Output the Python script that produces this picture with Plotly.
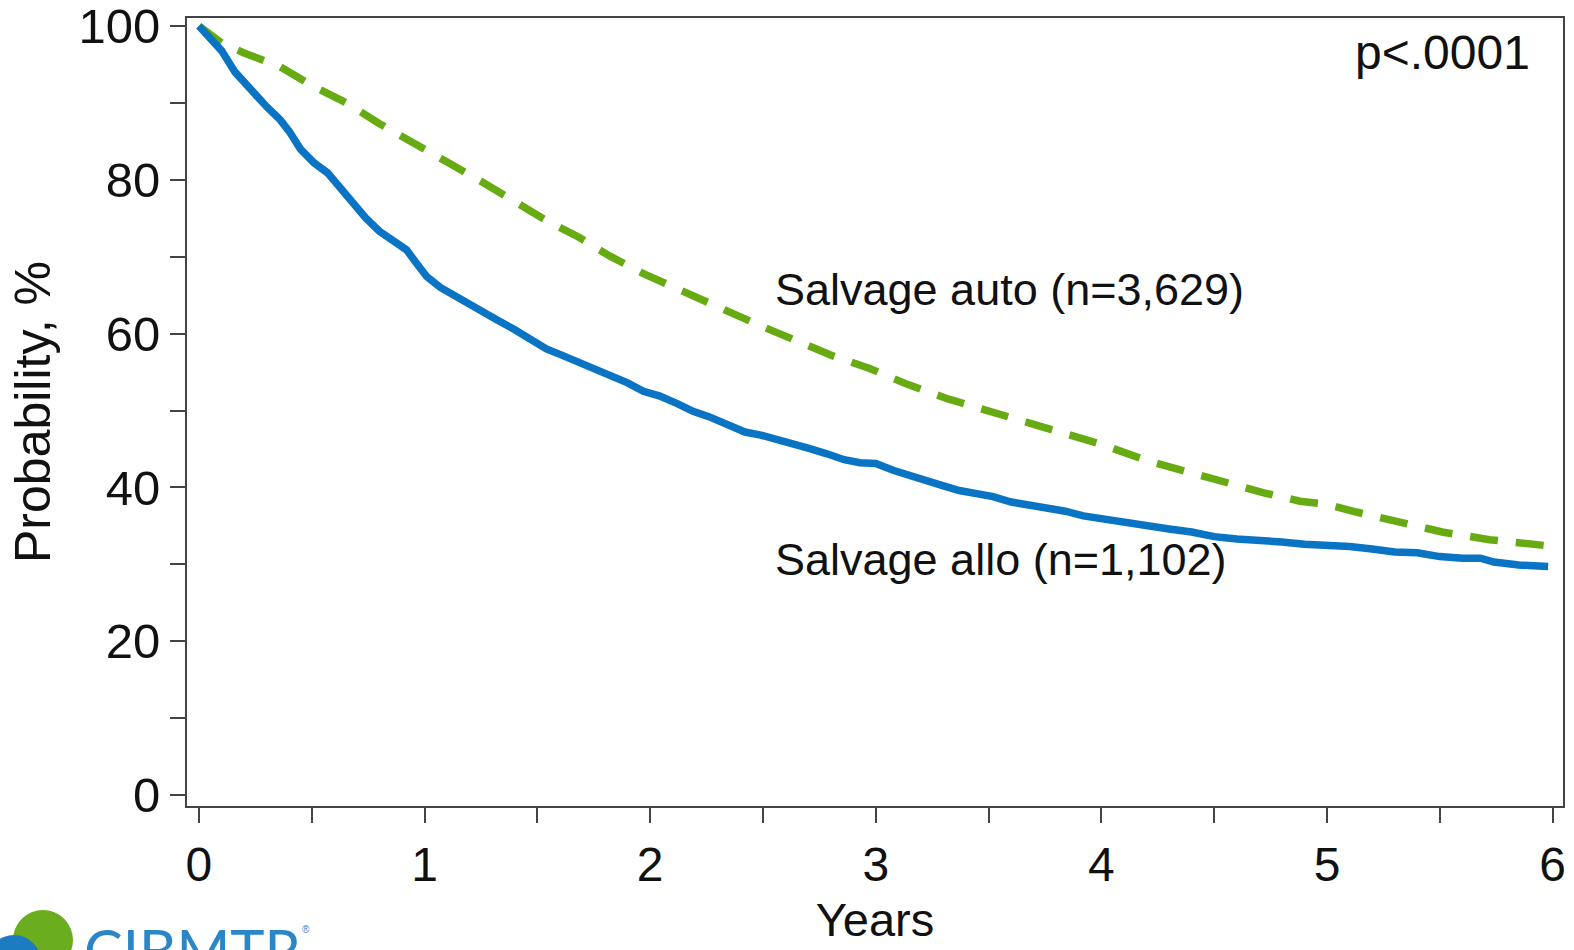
import plotly.graph_objects as go

# ---- data ----
allo_years = [0, 0.05, 0.1, 0.16, 0.24, 0.3, 0.36, 0.4, 0.45, 0.51, 0.57, 0.62, 0.68, 0.74, 0.8, 0.86,
              0.92, 0.96, 1.01, 1.07, 1.14, 1.22, 1.32, 1.4, 1.47, 1.54, 1.6, 1.68, 1.75, 1.82, 1.9,
              1.97, 2.04, 2.12, 2.19, 2.26, 2.34, 2.42, 2.49, 2.56, 2.63, 2.7, 2.78, 2.86, 2.93, 3.0,
              3.08, 3.15, 3.22, 3.3, 3.37, 3.45, 3.52, 3.6, 3.68, 3.76, 3.84, 3.92, 4.0, 4.1, 4.2,
              4.3, 4.4, 4.5, 4.6, 4.7, 4.8, 4.9, 5.0, 5.1, 5.2, 5.3, 5.4, 5.5, 5.6, 5.68, 5.74, 5.85, 5.98]
allo_prob = [100, 98.5, 96.8, 94.0, 91.3, 89.5, 87.8, 86.3, 84.0, 82.2, 80.9, 79.2, 77.0, 75.0, 73.3, 72.2,
             70.9, 69.3, 67.4, 66.0, 64.8, 63.3, 61.8, 60.5, 59.2, 58.0, 57.3, 56.3, 55.6, 54.8, 53.6,
             52.5, 51.9, 50.9, 49.9, 49.2, 48.1, 47.2, 46.8, 46.3, 45.7, 45.1, 44.4, 43.6, 43.2, 43.1,
             42.2, 41.5, 40.8, 40.2, 39.6, 39.2, 38.8, 38.1, 37.7, 37.4, 36.9, 36.3, 35.9, 35.4, 34.9,
             34.6, 34.2, 33.6, 33.3, 33.2, 32.9, 32.6, 32.5, 32.3, 32.0, 31.6, 31.5, 31.0, 30.8, 30.8, 30.3, 29.9, 29.7]

auto_years = [0, 0.1, 0.2, 0.36, 0.51, 0.66, 0.8, 0.95, 1.1, 1.25, 1.39, 1.54, 1.68, 1.82, 1.97, 2.15,
              2.31, 2.49, 2.63, 2.81, 2.97, 3.14, 3.32, 3.48, 3.67, 3.85, 4.0, 4.2, 4.38, 4.55, 4.72,
              4.88, 5.0, 5.13, 5.32, 5.51, 5.72, 5.93, 5.98]
auto_prob = [100, 97.8, 96.5, 94.7, 92.1, 89.9, 87.3, 84.9, 82.3, 79.8, 77.2, 74.7, 72.6, 70.1, 67.8, 65.4,
             63.2, 61.0, 59.3, 57.1, 55.5, 53.4, 51.5, 50.1, 48.3, 46.9, 45.6, 43.5, 42.0, 40.6, 39.3,
             38.2, 37.8, 36.8, 35.4, 34.2, 33.2, 32.4, 32.4]

x_tickvals = [0, 0.5, 1, 1.5, 2, 2.5, 3, 3.5, 4, 4.5, 5, 5.5, 6]
x_ticktext = ["0", "", "1", "", "2", "", "3", "", "4", "", "5", "", "6"]
y_tickvals = [0, 10, 20, 30, 40, 50, 60, 70, 80, 90, 100]
y_ticktext = ["0", "", "20", "", "40", "", "60", "", "80", "", "100"]

label_auto = "Salvage auto (n=3,629)"
label_allo = "Salvage allo (n=1,102)"
p_text = "p<.0001"

BLUE = "#0a74c4"
GREEN = "#66ab12"
FONT = "Liberation Sans, Arial, sans-serif"

W, H = 1574, 950
L, R, T, B = 187, 1563, 18, 806

fig = go.Figure()
fig.add_trace(go.Scatter(x=auto_years, y=auto_prob, mode="lines",
                         line=dict(color=GREEN, width=7.5, dash="28px,18px"), showlegend=False))
fig.add_trace(go.Scatter(x=allo_years, y=allo_prob, mode="lines",
                         line=dict(color=BLUE, width=7.5), showlegend=False))

fig.add_annotation(x=2.544, y=65.7, text=label_auto, showarrow=False, xanchor="left", yanchor="middle",
                   font=dict(size=45, color="#111", family=FONT))
fig.add_annotation(x=2.544, y=30.6, text=label_allo, showarrow=False, xanchor="left", yanchor="middle",
                   font=dict(size=45, color="#111", family=FONT))
fig.add_annotation(x=5.91, y=96.6, text=p_text, showarrow=False, xanchor="right", yanchor="middle",
                   font=dict(size=48, color="#111", family=FONT))


def px2paper(px, py):
    return (px - L) / (R - L), (B - py) / (B - T)


# CIBMTR logo (circles + text)
for cx, cy, r, col in [(43, 940, 30, "#6aae1f"), (14, 962, 27, "#1b7cc2")]:
    x0, y0 = px2paper(cx - r, cy + r)
    x1, y1 = px2paper(cx + r, cy - r)
    fig.add_shape(type="circle", xref="paper", yref="paper", x0=x0, y0=y0, x1=x1, y1=y1,
                  fillcolor=col, line=dict(width=0), layer="above")
lx, ly = px2paper(82, 913)
fig.add_annotation(xref="paper", yref="paper", x=lx, y=ly, text="CIBMTR", showarrow=False,
                   xanchor="left", yanchor="top", font=dict(size=58, color="#2a86c6", family="Lato"))
rx, ry = px2paper(300, 930)
fig.add_annotation(xref="paper", yref="paper", x=rx, y=ry, text="®", showarrow=False,
                   xanchor="left", yanchor="middle", font=dict(size=10, color="#2a86c6", family=FONT))

axis_common = dict(showline=True, linecolor="#444", linewidth=2, mirror=True, showgrid=False,
                   zeroline=False, ticks="outside", ticklen=15, tickwidth=2, tickcolor="#444",
                   ticklabeloverflow="allow")

fig.update_xaxes(range=[-0.053, 6.046], tickmode="array", tickvals=x_tickvals, ticktext=x_ticktext,
                 tickfont=dict(size=48, color="#111", family=FONT),
                 title=dict(text="Years", font=dict(size=47, color="#111", family=FONT), standoff=14),
                 **axis_common)
fig.update_yaxes(range=[-1.43, 101.04], tickmode="array", tickvals=y_tickvals, ticktext=y_ticktext,
                 tickfont=dict(size=49, color="#111", family=FONT),
                 title=dict(text="Probability, %", font=dict(size=50, color="#111", family=FONT), standoff=12),
                 **axis_common)

fig.update_layout(width=W, height=H, margin=dict(l=L, r=W - R, t=T, b=H - B, autoexpand=False),
                  plot_bgcolor="white", paper_bgcolor="white")

fig.write_html("out.html")
